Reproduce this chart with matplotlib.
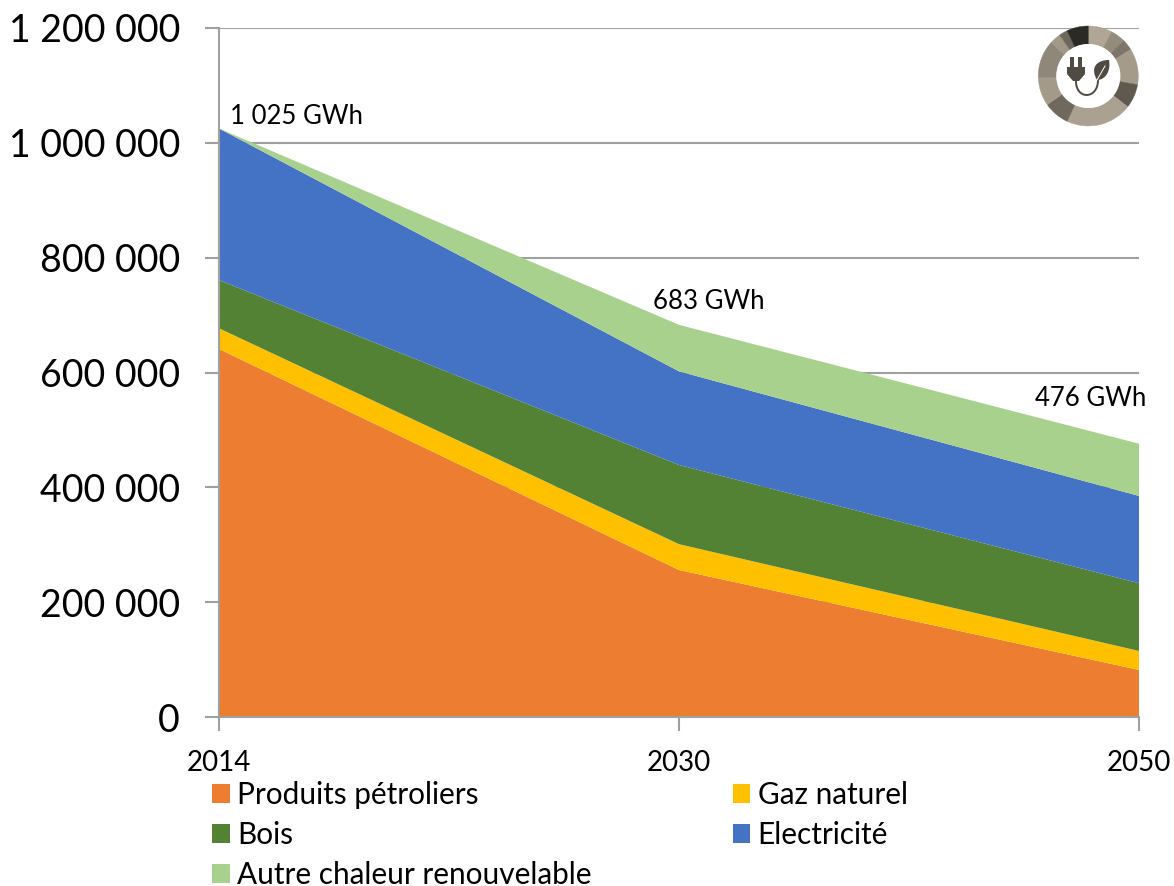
import matplotlib
matplotlib.use('Agg')
from matplotlib import pyplot as plt
from matplotlib.patches import Wedge, Circle, PathPatch, Polygon, Patch
from matplotlib.path import Path
from matplotlib.ticker import FuncFormatter

plt.rcParams['font.family'] = ['Lato', 'DejaVu Sans']

years = ['2014', '2030', '2050']
produits_petroliers = [641000, 256000, 82000]
gaz_naturel = [36000, 45000, 33000]
bois = [84000, 138000, 118000]
electricite = [264000, 163000, 152000]
autre_chaleur = [0, 81000, 91000]
totals_gwh = [1025, 683, 476]

series_names = ['Produits pétroliers', 'Gaz naturel', 'Bois', 'Electricité',
                'Autre chaleur renouvelable']
colors = ['#ED7D31', '#FFC000', '#548235', '#4472C4', '#A9D18E']

GREY = '#A0A0A0'
W, H = 1174, 886


def spaced(v):
  return f'{int(v):,}'.replace(',', ' ')


fig = plt.figure(figsize=(W / 100, H / 100), dpi=100)
ax = fig.add_axes([219 / W, 1 - 717 / H, 920 / W, 689 / H])

x = range(len(years))
ax.stackplot(x, produits_petroliers, gaz_naturel, bois, electricite, autre_chaleur,
             colors=colors, linewidth=0, zorder=2)

ax.set_xlim(0, 2)
ax.set_ylim(0, 1200000)
ax.set_yticks(range(0, 1200001, 200000))
ax.yaxis.set_major_formatter(FuncFormatter(lambda v, p: spaced(v)))
ax.set_xticks(list(x))
ax.set_xticklabels(years)
ax.grid(axis='y', color=GREY, linewidth=1.5, zorder=1)
ax.set_axisbelow(True)

ax.spines['top'].set_visible(False)
ax.spines['right'].set_visible(False)
ax.spines['left'].set_color(GREY)
ax.spines['bottom'].set_color(GREY)
ax.spines['left'].set_linewidth(1.5)
ax.spines['bottom'].set_linewidth(1.5)
ax.spines['left'].set_zorder(3)
ax.spines['bottom'].set_zorder(3)
ax.tick_params(axis='y', color=GREY, length=10, width=1.5, labelsize=27, pad=18)
ax.tick_params(axis='x', color=GREY, length=10, width=1.5, labelsize=20, pad=14)

# totals above the stack
tops = [sum(s) for s in zip(produits_petroliers, gaz_naturel, bois, electricite, autre_chaleur)]
offsets = [(11, 12, 'left'), (30, 23, 'center'), (-48, 45, 'center')]
for i, (dx, dy, ha) in enumerate(offsets):
  ax.annotate(f'{spaced(totals_gwh[i])} GWh', (i, tops[i]), xytext=(dx, dy),
              textcoords='offset pixels', ha=ha, va='center', fontsize=18.5,
              color='black', annotation_clip=False)

# legend, filled column by column
order = [0, 2, 4, 1, 3]
handles = [Patch(facecolor=colors[i], edgecolor='none', label=series_names[i]) for i in order]
fig.legend(handles=handles, ncols=2, loc='upper left', bbox_to_anchor=(212 / W, 1 - 781 / H),
           frameon=False, fontsize=21.4, handlelength=0.6, handleheight=0.6,
           handletextpad=0.24, columnspacing=4.75, labelspacing=0.4,
           borderpad=0, borderaxespad=0)

# plug and leaf badge, in pixel coordinates
badge = fig.add_axes([0, 0, 1, 1], facecolor='none')
badge.set_xlim(0, W)
badge.set_ylim(H, 0)
badge.axis('off')
cx, cy = 1088.3, 76
segments = [(0, 28, '#B0A695'), (28, 45, '#938B7C'), (45, 58, '#7D7568'), (58, 100, '#A59B8B'),
            (100, 128, '#5F594F'), (128, 205, '#ABA191'),
            (205, 235, '#6E685D'), (235, 268, '#A49A8A'), (268, 312, '#8F8779'),
            (312, 325, '#A29888'), (325, 335, '#6E685C'), (335, 360, '#2C2A25')]
for a0, a1, c in segments:
  # clockwise from twelve o'clock, with the y axis pointing down
  badge.add_patch(Wedge((cx, cy), 50, a0 - 90, a1 - 90, width=18, facecolor=c, edgecolor=c, linewidth=0.3))
badge.add_patch(Circle((cx, cy), 32, facecolor='white', edgecolor='none'))

icon = '#4F4A42'
badge.add_patch(Polygon([(1070, 57), (1073.5, 57), (1073.5, 67), (1070, 67)], facecolor=icon, edgecolor='none'))
badge.add_patch(Polygon([(1078, 57), (1081.5, 57), (1081.5, 67), (1078, 67)], facecolor=icon, edgecolor='none'))
badge.add_patch(Polygon([(1067, 67), (1085, 67), (1085, 74), (1079, 81), (1073, 81), (1067, 74)],
                        facecolor=icon, edgecolor='none'))
cord = Path([(1076, 80), (1075, 100), (1098, 100), (1098, 80)],
            [Path.MOVETO, Path.CURVE4, Path.CURVE4, Path.CURVE4])
badge.add_patch(PathPatch(cord, facecolor='none', edgecolor=icon, linewidth=1.4))
leaf = Path([(1097, 80), (1090, 68), (1096, 60), (1109, 60), (1111, 70), (1106, 80), (1097, 80)],
            [Path.MOVETO, Path.CURVE4, Path.CURVE4, Path.CURVE4, Path.CURVE4, Path.CURVE4, Path.CURVE4])
badge.add_patch(PathPatch(leaf, facecolor=icon, edgecolor='none'))
badge.plot([1097, 1105], [80, 66], color='white', linewidth=0.7)

fig.savefig('out.png', dpi=100)
